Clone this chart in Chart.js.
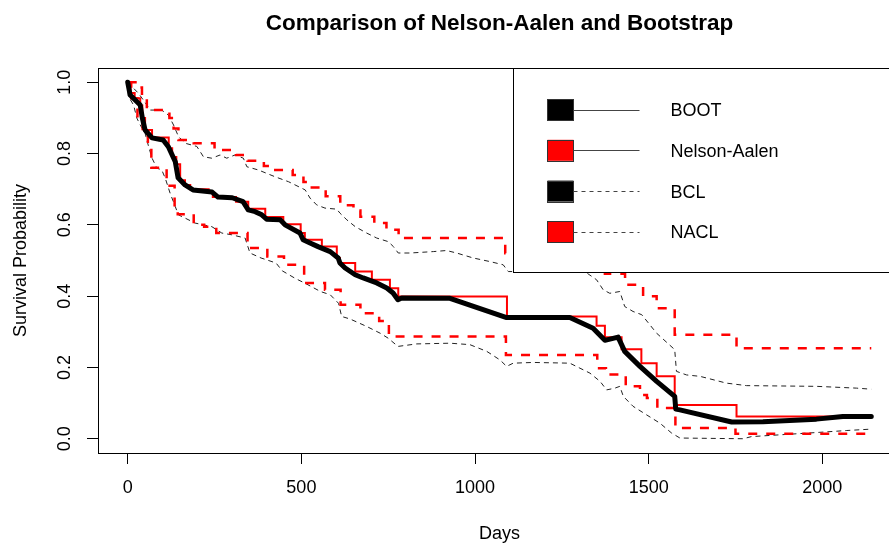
<!DOCTYPE html>
<html>
<head>
<meta charset="utf-8">
<title>Comparison of Nelson-Aalen and Bootstrap</title>
<script src="https://cdn.jsdelivr.net/npm/chart.js@4.4.1/dist/chart.umd.min.js"></script>
<style>
  html, body { margin: 0; padding: 0; overflow: hidden; background: #fff; }
  canvas { display: block; }
</style>
</head>
<body>
<canvas id="survChart" width="905" height="545"></canvas>
<script>
// bootstrap estimate (thick black line)
var bootDays = [0, 7, 36, 42, 50, 70, 102, 117, 137, 145, 165, 188, 243, 260, 301, 332, 347, 367, 386, 400, 439, 453, 496, 505, 525, 548, 583, 606, 611, 626, 655, 678, 717, 746, 764, 778, 789, 928, 1091, 1273, 1340, 1374, 1412, 1431, 1475, 1523, 1575, 1578, 1590, 1739, 1829, 1906, 1983, 2059, 2141];
var bootSurv = [1.0, 0.964, 0.936, 0.90, 0.866, 0.844, 0.838, 0.819, 0.777, 0.732, 0.712, 0.698, 0.692, 0.678, 0.676, 0.665, 0.642, 0.637, 0.628, 0.616, 0.614, 0.60, 0.577, 0.558, 0.549, 0.539, 0.525, 0.507, 0.493, 0.479, 0.46, 0.451, 0.437, 0.423, 0.409, 0.39, 0.395, 0.394, 0.34, 0.34, 0.31, 0.276, 0.285, 0.245, 0.203, 0.161, 0.119, 0.083, 0.081, 0.047, 0.048, 0.051, 0.055, 0.0625, 0.0625];

// Nelson-Aalen (red step)
var naDays = [0, 8, 20, 36, 42, 50, 70, 118, 128, 140, 151, 165, 180, 233, 245, 312, 347, 396, 448, 498, 510, 559, 602, 611, 655, 703, 755, 779, 1092, 1350, 1374, 1422, 1479, 1523, 1575, 1753, 2141];
var naSurv = [1.0, 0.97, 0.955, 0.935, 0.90, 0.866, 0.845, 0.815, 0.79, 0.77, 0.725, 0.712, 0.70, 0.69, 0.678, 0.665, 0.645, 0.622, 0.602, 0.577, 0.558, 0.539, 0.507, 0.493, 0.469, 0.446, 0.422, 0.399, 0.343, 0.317, 0.285, 0.251, 0.212, 0.175, 0.095, 0.0625, 0.0625];

// bootstrap confidence limits (thin black dashed)
var bclUpDays = [0, 31, 45, 65, 98, 117, 132, 146, 165, 199, 218, 242, 266, 285, 309, 333, 343, 376, 424, 463, 511, 525, 544, 568, 602, 611, 631, 655, 688, 717, 750, 765, 779, 813, 880, 918, 947, 995, 1043, 1081, 1096, 1139, 1250, 1316, 1350, 1369, 1388, 1417, 1431, 1455, 1480, 1523, 1575, 1580, 1609, 1648, 1724, 1782, 1983, 2098, 2141];
var bclUpSurv = [1.0, 0.969, 0.95, 0.922, 0.922, 0.908, 0.88, 0.848, 0.829, 0.82, 0.791, 0.787, 0.796, 0.787, 0.796, 0.787, 0.763, 0.754, 0.735, 0.721, 0.698, 0.675, 0.656, 0.647, 0.644, 0.633, 0.614, 0.595, 0.577, 0.563, 0.553, 0.539, 0.521, 0.521, 0.525, 0.528, 0.521, 0.507, 0.497, 0.488, 0.469, 0.469, 0.475, 0.469, 0.446, 0.418, 0.408, 0.413, 0.371, 0.357, 0.348, 0.296, 0.25, 0.189, 0.179, 0.175, 0.156, 0.149, 0.147, 0.142, 0.139];
var bclLoDays = [0, 2, 17, 26, 36, 50, 60, 70, 84, 98, 108, 122, 137, 146, 165, 194, 242, 271, 300, 338, 352, 384, 427, 445, 482, 511, 555, 583, 607, 616, 640, 688, 727, 750, 778, 832, 928, 985, 1034, 1072, 1091, 1110, 1168, 1273, 1302, 1331, 1360, 1379, 1403, 1417, 1427, 1455, 1494, 1532, 1566, 1590, 1772, 1796, 1878, 1993, 2069, 2141];
var bclLoSurv = [1.0, 0.96, 0.936, 0.90, 0.88, 0.857, 0.82, 0.787, 0.759, 0.754, 0.731, 0.689, 0.651, 0.628, 0.619, 0.605, 0.595, 0.577, 0.572, 0.563, 0.521, 0.507, 0.493, 0.471, 0.45, 0.436, 0.413, 0.404, 0.38, 0.343, 0.336, 0.315, 0.296, 0.282, 0.259, 0.266, 0.268, 0.264, 0.245, 0.221, 0.203, 0.212, 0.214, 0.212, 0.198, 0.184, 0.161, 0.137, 0.142, 0.147, 0.119, 0.091, 0.067, 0.044, 0.016, 0.002, 0.0, 0.006, 0.011, 0.018, 0.023, 0.027];

// Nelson-Aalen confidence limits (red dashed step)
var naclUpDays = [0, 26, 41, 55, 120, 132, 146, 190, 250, 312, 345, 392, 408, 475, 506, 518, 570, 612, 650, 670, 710, 745, 780, 1087, 1330, 1374, 1432, 1484, 1523, 1575, 1753, 2141];
var naclUpSurv = [1.0, 0.985, 0.955, 0.922, 0.90, 0.87, 0.838, 0.829, 0.81, 0.796, 0.78, 0.765, 0.754, 0.74, 0.72, 0.705, 0.68, 0.655, 0.64, 0.623, 0.605, 0.586, 0.563, 0.52, 0.49, 0.463, 0.432, 0.40, 0.366, 0.292, 0.254, 0.254];
var naclLoDays = [0, 10, 28, 43, 58, 68, 112, 135, 144, 190, 220, 255, 345, 402, 450, 508, 568, 613, 670, 724, 752, 1089, 1352, 1377, 1434, 1475, 1495, 1525, 1577, 1750, 2141];
var naclLoSurv = [1.0, 0.955, 0.90, 0.858, 0.818, 0.76, 0.71, 0.65, 0.63, 0.60, 0.595, 0.577, 0.535, 0.511, 0.488, 0.437, 0.418, 0.376, 0.352, 0.33, 0.287, 0.235, 0.198, 0.18, 0.147, 0.123, 0.114, 0.086, 0.03, 0.014, 0.014];

var xTicks = [0, 500, 1000, 1500, 2000];
var yTicks = [0, 0.2, 0.4, 0.6, 0.8, 1.0];
var legendLabels = ["BOOT", "Nelson-Aalen", "BCL", "NACL"];

function pts(days, surv) {
  return days.map(function (d, i) { return { x: d, y: surv[i] }; });
}

Chart.defaults.font.family = "'Liberation Sans', Arial, sans-serif";
Chart.defaults.color = "#000";

// R style box around the plot region
var boxPlugin = {
  id: "plotBox",
  afterDraw: function (chart) {
    var a = chart.chartArea, ctx = chart.ctx;
    ctx.save();
    ctx.strokeStyle = "#000";
    ctx.lineWidth = 1;
    ctx.strokeRect(Math.round(a.left) + 0.5, Math.round(a.top) + 0.5,
      Math.round(a.right - a.left), Math.round(a.bottom - a.top));
    ctx.restore();
  }
};

// legend like R's legend("topright", fill=..., lty=...)
var legendPlugin = {
  id: "rLegend",
  afterDatasetsDraw: function (chart) {
    var a = chart.chartArea, ctx = chart.ctx;
    var left = Math.round(a.right - 388) + 0.5;
    var top = Math.round(a.top) + 0.5;
    var bottom = top + 204;
    var fills = ["#000", "#ff0000", "#000", "#ff0000"];
    var dashes = [[], [], [4, 4], [4, 4]];
    ctx.save();
    ctx.fillStyle = "#fff";
    ctx.fillRect(left, top, a.right - left, bottom - top);
    ctx.strokeStyle = "#000";
    ctx.lineWidth = 1;
    ctx.strokeRect(left, top, a.right - left, bottom - top);
    ctx.font = "18px 'Liberation Sans', Arial, sans-serif";
    ctx.textBaseline = "middle";
    for (var i = 0; i < legendLabels.length; i++) {
      var y = top + 41 + i * 40.8;
      ctx.fillStyle = fills[i];
      ctx.fillRect(left + 34, y - 10.5, 26, 21);
      ctx.strokeStyle = "#333";
      ctx.setLineDash([]);
      ctx.strokeRect(left + 34, Math.round(y - 10.5) + 0.5, 26, 21);
      ctx.strokeStyle = "#444";
      ctx.setLineDash(dashes[i]);
      ctx.beginPath();
      ctx.moveTo(left + 60, Math.round(y) + 0.5);
      ctx.lineTo(left + 126, Math.round(y) + 0.5);
      ctx.stroke();
      ctx.fillStyle = "#000";
      ctx.fillText(legendLabels[i], left + 157, y + 1.5);
    }
    ctx.restore();
  }
};

var ctx = document.getElementById("survChart").getContext("2d");
var survChart = new Chart(ctx, {
  type: "line",
  data: {
    datasets: [
      {
        label: "BOOT",
        data: pts(bootDays, bootSurv),
        borderColor: "#000",
        borderWidth: 5,
        borderCapStyle: "round",
        borderJoinStyle: "round",
        pointRadius: 0,
        order: 0,
      },
      {
        label: "Nelson-Aalen",
        data: pts(naDays, naSurv),
        borderColor: "#ff0000",
        borderWidth: 2,
        stepped: "before",
        pointRadius: 0,
        order: 1,
      },
      {
        label: "BCL upper",
        data: pts(bclUpDays, bclUpSurv),
        borderColor: "#222",
        borderWidth: 1,
        borderDash: [5, 4],
        pointRadius: 0,
        order: 3,
      },
      {
        label: "BCL lower",
        data: pts(bclLoDays, bclLoSurv),
        borderColor: "#222",
        borderWidth: 1,
        borderDash: [5, 4],
        pointRadius: 0,
        order: 3,
      },
      {
        label: "NACL upper",
        data: pts(naclUpDays, naclUpSurv),
        borderColor: "#ff0000",
        borderWidth: 2.5,
        borderDash: [9, 9],
        stepped: "before",
        pointRadius: 0,
        order: 2,
      },
      {
        label: "NACL lower",
        data: pts(naclLoDays, naclLoSurv),
        borderColor: "#ff0000",
        borderWidth: 2.5,
        borderDash: [9, 9],
        stepped: "before",
        pointRadius: 0,
        order: 2,
      },
    ],
  },
  options: {
    responsive: false,
    animation: false,
    layout: { padding: { left: 0, right: 4, top: 0, bottom: 0 } },
    plugins: {
      legend: { display: false },
      tooltip: { enabled: false },
      title: {
        display: true,
        fullSize: false, // centre over the plot region like R's main title
        text: "Comparison of Nelson-Aalen and Bootstrap",
        font: { size: 22.5, weight: "bold" },
        color: "#000",
        padding: { top: 10, bottom: 31 },
      },
    },
    scales: {
      x: {
        type: "linear",
        min: -85.6,
        max: 2226.6,
        afterBuildTicks: function (s) { s.ticks = xTicks.map(function (v) { return { value: v }; }); },
        afterFit: function (s) { s.height = 92; },
        ticks: {
          font: { size: 18 }, color: "#000", padding: 13, maxRotation: 0, autoSkip: false,
          callback: function (v) { return String(v); },
        },
        grid: { drawOnChartArea: false, drawTicks: true, tickLength: 11, color: "#000" },
        border: { display: false },
        title: { display: true, text: "Days", font: { size: 18 }, color: "#000", padding: { top: 0, bottom: 0 } },
      },
      y: {
        type: "linear",
        min: -0.04,
        max: 1.04,
        afterBuildTicks: function (s) { s.ticks = yTicks.map(function (v) { return { value: v }; }); },
        afterFit: function (s) { s.width = 98; },
        ticks: {
          font: { size: 18 }, color: "#000", padding: 9.5,
          minRotation: 90, maxRotation: 90, crossAlign: "center",
          callback: function (v) { return Number(v).toFixed(1); },
        },
        grid: { drawOnChartArea: false, drawTicks: true, tickLength: 11, color: "#000" },
        border: { display: false },
        title: { display: true, text: "Survival Probability", font: { size: 18 }, color: "#000", padding: { top: 10, bottom: 0 } },
      },
    },
  },
  plugins: [legendPlugin, boxPlugin],
});
</script>
</body>
</html>
